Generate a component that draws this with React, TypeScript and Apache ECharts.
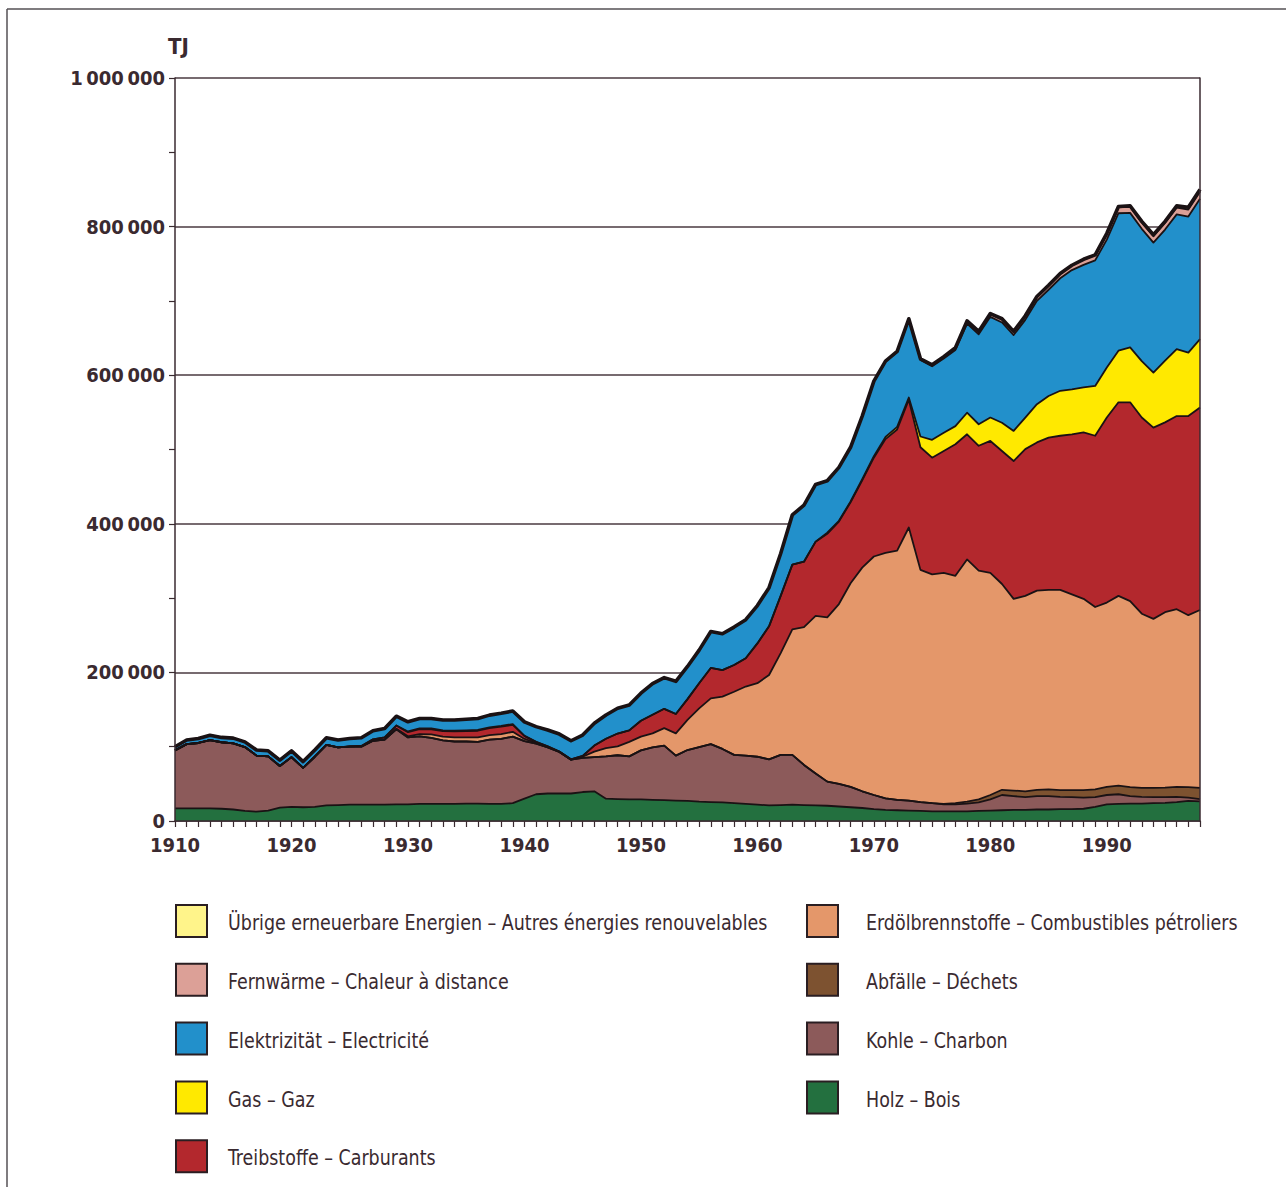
import React, { useEffect, useRef } from "react";
import * as echarts from "echarts";

const years = [
  "1910","1911","1912","1913","1914","1915","1916","1917","1918","1919",
  "1920","1921","1922","1923","1924","1925","1926","1927","1928","1929",
  "1930","1931","1932","1933","1934","1935","1936","1937","1938","1939",
  "1940","1941","1942","1943","1944","1945","1946","1947","1948","1949",
  "1950","1951","1952","1953","1954","1955","1956","1957","1958","1959",
  "1960","1961","1962","1963","1964","1965","1966","1967","1968","1969",
  "1970","1971","1972","1973","1974","1975","1976","1977","1978","1979",
  "1980","1981","1982","1983","1984","1985","1986","1987","1988","1989",
  "1990","1991","1992","1993","1994","1995","1996","1997","1998",
];

const holz = [
  17000, 17000, 17000, 17000, 16500, 15500, 13500, 12500, 14000, 18000,
  19000, 18500, 19000, 21000, 21500, 22000, 22000, 22000, 22000, 22500,
  22500, 23000, 23000, 23000, 23000, 23500, 23500, 23000, 23000, 24000,
  30000, 36000, 37000, 37000, 37000, 39000, 40000, 30000, 29500, 29000,
  29000, 28500, 28000, 27500, 27000, 26000, 25500, 25000, 24000, 23000,
  22000, 21000, 21500, 22000, 21500, 21000, 20500, 19500, 18500, 17500,
  16000, 15000, 14500, 14000, 13500, 13000, 13000, 13000, 13000, 13500,
  14000, 14500, 15000, 15000, 15500, 15500, 16000, 16000, 16500, 19000,
  22500, 23000, 23500, 23500, 24000, 24500, 25500, 27000, 26500,
];

const kohle = [
  78000, 86500, 88000, 92000, 89500, 89000, 86000, 75500, 73000, 56000,
  67000, 53000, 67500, 81500, 77500, 78000, 78000, 86000, 87500, 101000,
  90000, 91000, 89000, 85500, 84000, 83500, 83000, 86500, 87500, 89500,
  77500, 68000, 62000, 56000, 45500, 46000, 46000, 57000, 59000, 58000,
  66000, 70500, 73500, 60500, 68500, 73500, 78000, 72000, 65000, 65000,
  64500, 62000, 67500, 67000, 54000, 43000, 32500, 30500, 27500, 22500,
  19000, 15500, 14000, 13500, 12000, 11000, 9500, 9500, 10500, 11500,
  15000, 20500, 18500, 17000, 18000, 18000, 16500, 16000, 15000, 13000,
  12500, 13000, 10000, 9000, 8000, 7500, 7000, 4500, 3000,
];

const abfaelle = [
  0, 0, 0, 0, 0, 0, 0, 0, 0, 0,
  0, 0, 0, 0, 0, 0, 0, 0, 0, 0,
  0, 0, 0, 0, 0, 0, 0, 0, 0, 0,
  0, 0, 0, 0, 0, 0, 0, 0, 0, 0,
  0, 0, 0, 0, 0, 0, 0, 0, 0, 0,
  0, 0, 0, 0, 0, 0, 0, 0, 0, 0,
  0, 0, 0, 0, 0, 0, 500, 1500, 2500, 4000,
  6000, 7000, 7500, 8000, 8500, 9000, 9000, 9500, 10000, 10500,
  11000, 11500, 12000, 12000, 12500, 13000, 13500, 14000, 15000,
];

const erdoel = [
  0, 0, 0, 0, 0, 0, 0, 0, 0, 0,
  0, 0, 0, 0, 0, 0, 0, 0, 0, 500,
  1500, 3000, 4500, 5000, 5500, 5500, 6000, 6000, 6500, 6500,
  3000, 1000, 500, 0, 0, 1500, 7300, 11000, 12000, 19500,
  18500, 19000, 23500, 30000, 40500, 52000, 61500, 70500, 85000, 93000,
  99000, 113500, 137000, 169000, 185500, 212000, 221000, 242000, 274000, 301000,
  321000, 330500, 335500, 367500, 312500, 308000, 311000, 306000, 326000, 308000,
  299000, 277000, 258000, 263000, 268000, 268500, 269500, 263500, 257500, 245500,
  248000, 255500, 250500, 234500, 227500, 236000, 239000, 231500, 239500,
];

const treibstoffe = [
  0, 0, 0, 0, 0, 0, 0, 0, 0, 0,
  0, 0, 0, 0, 0, 500, 1000, 2000, 3000, 4500,
  5500, 6500, 7000, 7500, 8000, 8500, 9000, 9500, 10000, 9500,
  4000, 1500, 1000, 500, 500, 1200, 8200, 12700, 17200, 15500,
  21500, 25000, 26000, 26000, 28000, 34000, 41000, 35500, 36000, 38000,
  53500, 65500, 77000, 87000, 88000, 100000, 112500, 111000, 109000, 117500,
  133000, 153000, 163000, 172000, 165000, 157000, 164000, 177000, 168500, 168000,
  177500, 179000, 185500, 197500, 199500, 205000, 207500, 215500, 224000, 230500,
  249000, 260500, 267500, 264000, 257500, 255500, 260000, 268000, 272500,
];

const gas = [
  0, 0, 0, 0, 0, 0, 0, 0, 0, 0,
  0, 0, 0, 0, 0, 0, 0, 0, 0, 0,
  1000, 1000, 1000, 1000, 1000, 1000, 1000, 1000, 1000, 1000,
  0, 0, 0, 0, 0, 0, 0, 0, 0, 0,
  0, 0, 0, 0, 0, 0, 0, 0, 0, 0,
  0, 0, 0, 0, 0, 0, 1500, 1000, 1000, 1500,
  2000, 3000, 3500, 3000, 14500, 24000, 24500, 24500, 29000, 29000,
  31500, 38000, 40500, 42500, 51500, 56000, 60500, 60500, 60500, 67000,
  67500, 69500, 74000, 76000, 74000, 83000, 90000, 85500, 92000,
];

const elektrizitaet = [
  5000, 5500, 6000, 6500, 6500, 7000, 7000, 7500, 7500, 8000,
  8500, 8500, 9000, 9500, 10000, 10500, 11000, 11500, 12000, 12500,
  13000, 13500, 13500, 14000, 14500, 15000, 15500, 16500, 17000, 17500,
  19000, 20500, 22000, 23500, 25000, 28000, 30000, 32000, 34000, 34000,
  37000, 42000, 42000, 44000, 44000, 44500, 49000, 49000, 51000, 52000,
  51000, 52000, 57000, 67000, 76000, 77000, 70000, 72000, 73000, 85000,
  100500, 101500, 100500, 105000, 103000, 99000, 100000, 102500, 120000, 121000,
  135500, 135000, 129000, 131500, 139000, 143000, 151500, 160500, 165000, 169000,
  172000, 185000, 181000, 178000, 175000, 176500, 181500, 183000, 189000,
];

const fernwaerme = [
  0, 0, 0, 0, 0, 0, 0, 0, 0, 0,
  0, 0, 0, 0, 0, 0, 0, 0, 0, 0,
  0, 0, 0, 0, 0, 0, 0, 0, 0, 0,
  0, 0, 0, 0, 0, 0, 0, 0, 0, 0,
  0, 0, 0, 0, 0, 0, 0, 0, 0, 0,
  0, 0, 0, 0, 0, 0, 0, 0, 0, 0,
  500, 500, 1000, 1000, 1500, 2000, 2500, 3000, 3500, 4000,
  4500, 5000, 5000, 5500, 6000, 6000, 6500, 6500, 7000, 7000,
  7500, 8000, 8000, 8500, 8500, 9000, 9000, 9500, 9500,
];

const uebrige = [
  0, 0, 0, 0, 0, 0, 0, 0, 0, 0,
  0, 0, 0, 0, 0, 0, 0, 0, 0, 0,
  0, 0, 0, 0, 0, 0, 0, 0, 0, 0,
  0, 0, 0, 0, 0, 0, 0, 0, 0, 0,
  0, 0, 0, 0, 0, 0, 0, 0, 0, 0,
  0, 0, 0, 0, 0, 0, 0, 0, 0, 0,
  0, 0, 0, 0, 0, 0, 0, 0, 0, 0,
  0, 0, 0, 0, 0, 0, 0, 0, 500, 500,
  1000, 1000, 1500, 1500, 2000, 2000, 2500, 3000, 3000,
];

// stacking order: bottom to top
const stackNames = [
  "Holz – Bois",
  "Kohle – Charbon",
  "Abfälle – Déchets",
  "Erdölbrennstoffe – Combustibles pétroliers",
  "Treibstoffe – Carburants",
  "Gas – Gaz",
  "Elektrizität – Electricité",
  "Fernwärme – Chaleur à distance",
  "Übrige erneuerbare Energien – Autres énergies renouvelables",
];
const stackData = [holz, kohle, abfaelle, erdoel, treibstoffe, gas, elektrizitaet, fernwaerme, uebrige];
const stackColors = ["#23703f", "#8c5a5a", "#7d5230", "#e4976a", "#b3282d", "#ffe900", "#2290cb", "#dca097", "#fff48a"];

// legend columns (indices into stackNames)
const legendLeft = [8, 7, 6, 5, 4];
const legendRight = [3, 2, 1, 0];

const yTicks = [0, 200000, 400000, 600000, 800000, 1000000];

const FONT = "'DejaVu Sans Condensed', 'Liberation Sans Narrow', 'Noto Sans', sans-serif";
const INK = "#3a2a30";
const LINE = "#1a1214";

function fmt(v: number) {
  return String(v).replace(/\B(?=(\d{3})+(?!\d))/g, "\u2009");
}

export default function App() {
  const ref = useRef<HTMLDivElement>(null);
  useEffect(() => {
    if (!ref.current) return;
    const chart = echarts.init(ref.current, undefined, { renderer: "svg" });

    const areaSeries = stackNames.map((name, i) => ({
      name,
      type: "line",
      stack: "area",
      data: stackData[i],
      symbol: "none",
      showSymbol: false,
      lineStyle: { width: 0, opacity: 0 },
      areaStyle: { color: stackColors[i], opacity: 1 },
      z: 2,
      silent: true,
    }));
    const lineSeries = stackNames.map((name, i) => ({
      name: name + " (Linie)",
      type: "line",
      stack: "outline",
      data: stackData[i],
      symbol: "none",
      showSymbol: false,
      lineStyle: { color: LINE, width: i === stackNames.length - 1 ? 3.6 : 1.8, join: "round" },
      z: 3,
      silent: true,
    }));

    const legendGraphics: any[] = [];
    const addLegend = (idxs: number[], iconX: number, textX: number) => {
      idxs.forEach((si, row) => {
        const top = 905 + row * 58.8;
        legendGraphics.push({
          type: "rect",
          shape: { x: iconX, y: top, width: 31, height: 32 },
          style: { fill: stackColors[si], stroke: "#2a1e22", lineWidth: 2 },
        });
        legendGraphics.push({
          type: "text",
          x: textX,
          y: top + 18,
          scaleX: 0.925,
          style: {
            text: stackNames[si],
            font: `21px ${FONT}`,
            fill: INK,
            textVerticalAlign: "middle",
            verticalAlign: "middle",
          },
        });
      });
    };
    addLegend(legendLeft, 176, 228);
    addLegend(legendRight, 807, 866);

    chart.setOption({
      animation: false,
      backgroundColor: "#ffffff",
      grid: { left: 175, right: 86, top: 78, bottom: 366, containLabel: false },
      xAxis: {
        type: "category",
        data: years,
        boundaryGap: false,
        z: 10,
        axisLine: { show: true, lineStyle: { color: INK, width: 1.5 } },
        axisTick: { show: true, interval: 0, length: 6, lineStyle: { color: INK, width: 1.2 } },
        axisLabel: {
          interval: (idx: number, val: string) => Number(val) % 10 === 0,
          margin: 14,
          fontFamily: FONT,
          fontWeight: "bold",
          fontSize: 20,
          color: INK,
        },
        splitLine: { show: false },
      },
      yAxis: [
        {
          type: "value",
          min: 0,
          max: 1000000,
          interval: 200000,
          position: "left",
          axisLine: { show: false },
          axisTick: { show: true, length: 6, lineStyle: { color: INK, width: 1.2 } },
          minorTick: { show: true, splitNumber: 2, length: 6, lineStyle: { color: INK, width: 1.2 } },
          axisLabel: {
            margin: 10,
            fontFamily: FONT,
            fontWeight: "bold",
            fontSize: 20,
            color: INK,
            formatter: (v: number) => (yTicks.includes(v) ? fmt(v) : ""),
          },
          splitLine: { show: true, lineStyle: { color: "#4a3a40", width: 1.5 } },
        },
        {
          type: "value",
          min: 0,
          max: 1000000,
          position: "left",
          z: 10,
          axisLine: { show: true, onZero: false, lineStyle: { color: INK, width: 1.5 } },
          axisTick: { show: false },
          axisLabel: { show: false },
          splitLine: { show: false },
        },
        {
          type: "value",
          min: 0,
          max: 1000000,
          position: "right",
          z: 10,
          axisLine: { show: true, onZero: false, lineStyle: { color: INK, width: 1.5 } },
          axisTick: { show: false },
          axisLabel: { show: false },
          splitLine: { show: false },
        },
      ],
      series: [...areaSeries, ...lineSeries],
      graphic: [
        {
          type: "line",
          shape: { x1: 7, y1: 9, x2: 1286, y2: 9 },
          style: { stroke: "#555055", lineWidth: 1.5 },
        },
        {
          type: "line",
          shape: { x1: 7, y1: 9, x2: 7, y2: 1187 },
          style: { stroke: "#555055", lineWidth: 1.5 },
        },
        {
          type: "text",
          x: 168,
          y: 46,
          style: {
            text: "TJ",
            font: `bold 22px ${FONT}`,
            fill: INK,
            textVerticalAlign: "middle",
            verticalAlign: "middle",
          },
        },
        ...legendGraphics,
      ],
    });
    return () => chart.dispose();
  }, []);
  return (
    <div
      ref={ref}
      style={{ position: "fixed", left: 0, top: 0, width: 1286, height: 1187, background: "#fff" }}
    />
  );
}
